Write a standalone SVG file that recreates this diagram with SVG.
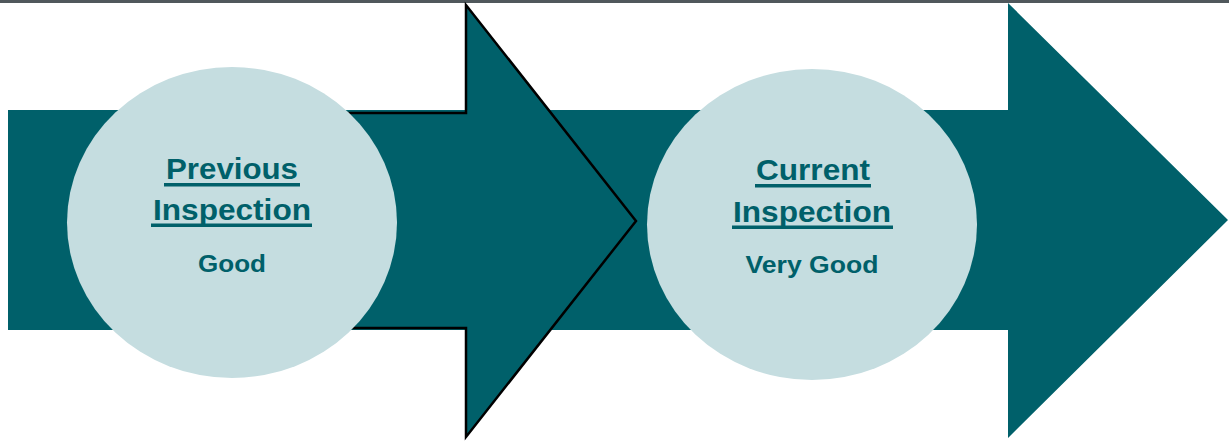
<svg xmlns="http://www.w3.org/2000/svg" width="1229" height="441" viewBox="0 0 1229 441">
<style>
.arrow{fill:#00606a}
.circ{fill:#c5dde0}
.t{font-family:"Liberation Sans",Arial,sans-serif;font-weight:bold;fill:#00606a;text-anchor:middle}
.h{font-size:30px}
.s{font-size:24px}
.u{fill:#00606a}
</style>
<rect x="0" y="0" width="1229" height="3" fill="#50585c"/>
<g id="connectors">
<polygon class="arrow" points="8,110 1008,110 1008,3 1228,220 1008,438 1008,330 8,330"/>
<polygon class="arrow" points="200,113 466,113 466,5 636,221 466,437 466,328 200,328" stroke="#000" stroke-width="2.5"/>
</g>
<g id="previous">
<ellipse class="circ" cx="232" cy="222.5" rx="165" ry="155.5"/>
<text class="t h" x="232" y="179" textLength="132" lengthAdjust="spacingAndGlyphs">Previous</text>
<rect class="u" x="164" y="183" width="136" height="3.5"/>
<text class="t h" x="232" y="220" textLength="158" lengthAdjust="spacingAndGlyphs">Inspection</text>
<rect class="u" x="151" y="223.5" width="161" height="3.5"/>
<text class="t s" x="232" y="272" textLength="68" lengthAdjust="spacingAndGlyphs">Good</text>
</g>
<g id="current">
<ellipse class="circ" cx="812" cy="224.5" rx="165" ry="155.5"/>
<text class="t h" x="813" y="180" textLength="114" lengthAdjust="spacingAndGlyphs">Current</text>
<rect class="u" x="755" y="184" width="116" height="3.5"/>
<text class="t h" x="812" y="222" textLength="158" lengthAdjust="spacingAndGlyphs">Inspection</text>
<rect class="u" x="732" y="225.5" width="161" height="3.5"/>
<text class="t s" x="812" y="273" textLength="133" lengthAdjust="spacingAndGlyphs">Very Good</text>
</g>
</svg>
